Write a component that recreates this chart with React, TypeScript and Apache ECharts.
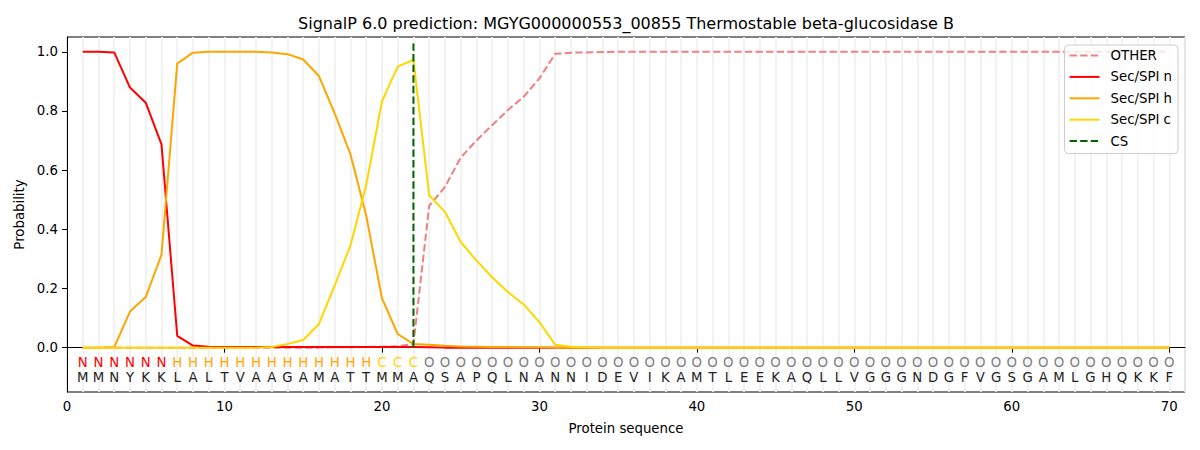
import React, { useEffect, useRef } from "react";
import * as echarts from "echarts";

const residues = "MMNYKKLALTVAAGAMATTMMAQSAPQLNANNIDEVIKAMTLEEKAQLLVGGGNDGFVGSGAMLGHQKKF".split("");
const classes = ("NNNNNN" + "HHHHHHHHHHHHH" + "CCC" + "O".repeat(48)).split("");

const otherProb = [
  0, 0, 0, 0, 0, 0, 0, 0, 0, 0,
  0, 0, 0, 0, 0, 0, 0.001, 0.001, 0.002, 0.003,
  0.005, 0.012, 0.479, 0.543, 0.642, 0.7, 0.752, 0.803, 0.848, 0.91,
  0.993, 0.997, 0.998, 0.999, 1, 1, 1, 1, 1, 1,
  1, 1, 1, 1, 1, 1, 1, 1, 1, 1,
  1, 1, 1, 1, 1, 1, 1, 1, 1, 1,
  1, 1, 1, 1, 1, 1, 1, 1, 1, 1,
];
const secN = [
  1, 1, 0.998, 0.879, 0.828, 0.687, 0.04, 0.007, 0.003, 0.002,
  0.002, 0.002, 0.002, 0.002, 0.002, 0.002, 0.002, 0.002, 0.002, 0.002,
  0.002, 0.002, 0.001, 0, 0, 0, 0, 0, 0, 0,
  0, 0, 0, 0, 0, 0, 0, 0, 0, 0,
  0, 0, 0, 0, 0, 0, 0, 0, 0, 0,
  0, 0, 0, 0, 0, 0, 0, 0, 0, 0,
  0, 0, 0, 0, 0, 0, 0, 0, 0, 0,
];
const secH = [
  0, 0, 0.002, 0.122, 0.171, 0.314, 0.96, 0.997, 1, 1,
  1, 1, 0.998, 0.992, 0.974, 0.918, 0.792, 0.654, 0.447, 0.167,
  0.046, 0.012, 0.01, 0.006, 0.004, 0.003, 0.002, 0.002, 0.001, 0.001,
  0, 0, 0, 0, 0, 0, 0, 0, 0, 0,
  0, 0, 0, 0, 0, 0, 0, 0, 0, 0,
  0, 0, 0, 0, 0, 0, 0, 0, 0, 0,
  0, 0, 0, 0, 0, 0, 0, 0, 0, 0,
];
const secC = [
  0, 0, 0, 0, 0, 0, 0, 0, 0, 0,
  0, 0, 0.002, 0.012, 0.026, 0.08, 0.21, 0.345, 0.549, 0.832,
  0.95, 0.973, 0.515, 0.459, 0.357, 0.295, 0.238, 0.188, 0.146, 0.086,
  0.01, 0.003, 0.001, 0, 0, 0, 0, 0, 0, 0,
  0, 0, 0, 0, 0, 0, 0, 0, 0, 0,
  0, 0, 0, 0, 0, 0, 0, 0, 0, 0,
  0, 0, 0, 0, 0, 0, 0, 0, 0, 0,
];
const csPosition = 22;
const csTop = 1.035;
const xTicks = [0, 10, 20, 30, 40, 50, 60, 70];
const yTicks = [0, 0.2, 0.4, 0.6, 0.8, 1.0];

const classColors: Record<string, string> = {
  N: "#ff0000",
  H: "#ffa500",
  C: "#ffd700",
  O: "#808080",
};

const FONT = "DejaVu Sans";
const classRowY = -0.05;
const residueRowY = -0.101;
const dash = [7.4, 3.2];

export default function App() {
  const ref = useRef<HTMLDivElement>(null);
  useEffect(() => {
    document.body.style.margin = "0";
    if (!ref.current) return;
    const chart = echarts.init(ref.current, undefined, { renderer: "svg" });
    const toPts = (arr: number[]) => arr.map((v, i) => [i + 1, v]);
    const option: any = {
      animation: false,
      backgroundColor: "#ffffff",
      textStyle: { fontFamily: FONT },
      graphic: [
        {
          type: "text",
          x: 626,
          y: 23,
          style: {
            text: "SignalP 6.0 prediction: MGYG000000553_00855 Thermostable beta-glucosidase B",
            fontFamily: FONT,
            fontSize: 16,
            fill: "#000",
            align: "center",
            verticalAlign: "middle",
          },
        },
      ],
      grid: {
        left: 67,
        right: 15,
        top: 37,
        bottom: 58,
        show: true,
        borderColor: "#000",
        borderWidth: 1,
        backgroundColor: "transparent",
      },
      legend: {
        data: ["OTHER", "Sec/SPI n", "Sec/SPI h", "Sec/SPI c", "CS"],
        orient: "vertical",
        right: 22,
        top: 45,
        itemWidth: 30,
        itemHeight: 14,
        itemGap: 8.4,
        padding: [4, 6, 6, 4],
        backgroundColor: "rgba(255,255,255,0.8)",
        borderColor: "#cccccc",
        borderWidth: 1,
        borderRadius: 4,
        itemStyle: { opacity: 0 },
        textStyle: { fontFamily: FONT, fontSize: 13.3, color: "#000", padding: [0, 0, 0, 6] },
      },
      xAxis: [
        {
          type: "value",
          min: 0,
          max: 71,
          name: "Protein sequence",
          nameLocation: "middle",
          nameGap: 30,
          nameTextStyle: { fontFamily: FONT, fontSize: 13.3, color: "#000" },
          axisLine: { show: true, lineStyle: { color: "#000", width: 1 } },
          axisTick: { show: true, length: 5, customValues: xTicks, lineStyle: { color: "#000" } },
          axisLabel: {
            customValues: xTicks,
            margin: 8,
            fontFamily: FONT,
            fontSize: 13.3,
            color: "#000",
          },
          splitLine: { show: false },
        },
        {
          type: "value",
          min: 0,
          max: 71,
          interval: 1,
          position: "bottom",
          axisLine: { show: false },
          axisTick: { show: false },
          axisLabel: { show: false },
          splitLine: { show: true, lineStyle: { color: "#f1f1f1", width: 1.8 } },
        },
      ],
      yAxis: {
        type: "value",
        min: -0.15,
        max: 1.05,
        name: "Probability",
        nameLocation: "middle",
        nameGap: 38,
        nameTextStyle: { fontFamily: FONT, fontSize: 13.3, color: "#000" },
        axisLine: { show: true, lineStyle: { color: "#000", width: 1 } },
        axisTick: { show: true, length: 5, customValues: yTicks, lineStyle: { color: "#000" } },
        axisLabel: {
          customValues: yTicks,
          formatter: (v: number) => v.toFixed(1),
          margin: 9,
          fontFamily: FONT,
          fontSize: 13.3,
          color: "#000",
        },
        splitLine: { show: false },
      },
      series: [
        {
          name: "OTHER",
          type: "line",
          data: toPts(otherProb),
          symbol: "none",
          lineStyle: { color: "#f08080", width: 2, type: dash },
          itemStyle: { color: "#f08080" },
        },
        {
          name: "Sec/SPI n",
          type: "line",
          data: toPts(secN),
          symbol: "none",
          lineStyle: { color: "#ff0000", width: 2 },
          itemStyle: { color: "#ff0000" },
        },
        {
          name: "Sec/SPI h",
          type: "line",
          data: toPts(secH),
          symbol: "none",
          lineStyle: { color: "#ffa500", width: 2 },
          itemStyle: { color: "#ffa500" },
        },
        {
          name: "Sec/SPI c",
          type: "line",
          data: toPts(secC),
          symbol: "none",
          lineStyle: { color: "#ffd700", width: 2 },
          itemStyle: { color: "#ffd700" },
        },
        {
          name: "CS",
          type: "line",
          data: [
            [csPosition, 0],
            [csPosition, csTop],
          ],
          symbol: "none",
          lineStyle: { color: "#006400", width: 2, type: dash },
          itemStyle: { color: "#006400" },
        },
        {
          name: "residues",
          type: "custom",
          silent: true,
          clip: false,
          data: residues.map((_, i) => [i + 1, classRowY, i]),
          encode: { x: 0, y: 1 },
          renderItem: (params: any, api: any) => {
            const x = api.value(0);
            const i = api.value(2);
            const p1 = api.coord([x, classRowY]);
            const p2 = api.coord([x, residueRowY]);
            const cls = classes[i];
            return {
              type: "group",
              children: [
                {
                  type: "text",
                  x: p1[0],
                  y: p1[1],
                  style: {
                    text: cls,
                    fill: classColors[cls],
                    fontFamily: FONT,
                    fontSize: 13.3,
                    align: "center",
                    verticalAlign: "middle",
                  },
                },
                {
                  type: "text",
                  x: p2[0],
                  y: p2[1],
                  style: {
                    text: residues[i],
                    fill: "#222",
                    fontFamily: FONT,
                    fontSize: 13.3,
                    align: "center",
                    verticalAlign: "middle",
                  },
                },
              ],
            };
          },
        },
      ],
    };
    chart.setOption(option);
    return () => chart.dispose();
  }, []);
  return <div ref={ref} style={{ width: 1200, height: 450 }} />;
}
